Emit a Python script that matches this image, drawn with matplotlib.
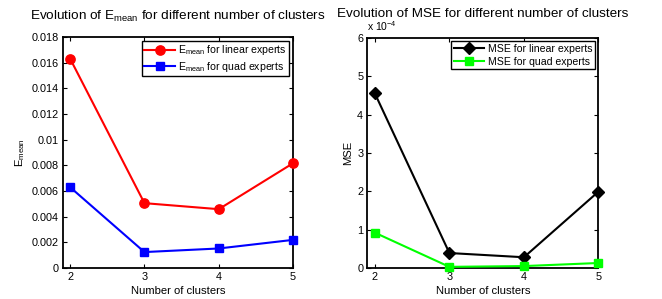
import matplotlib
matplotlib.use('Agg')
import matplotlib.pyplot as plt
import numpy as np

plt.rcParams['font.family'] = ['Liberation Sans', 'DejaVu Sans']
plt.rcParams['mathtext.default'] = 'regular'

# data
clusters = [2, 3, 4, 5]
emean_linear = [0.0163, 0.00505, 0.00458, 0.00816]
emean_quad = [0.00629, 0.00124, 0.00152, 0.00219]
mse_linear = [4.55e-4, 0.39e-4, 0.28e-4, 1.99e-4]
mse_quad = [0.92e-4, 0.03e-4, 0.05e-4, 0.13e-4]

fig = plt.figure(figsize=(6.62, 2.99), dpi=100)
ax1 = fig.add_axes([0.0947, 0.1037, 0.348, 0.773])
ax2 = fig.add_axes([0.555, 0.1037, 0.349, 0.770])


def matlab_style(ax):
    ax.tick_params(direction='in', top=True, right=True, length=3, width=0.8,
                   labelsize=7.8, pad=3)
    for s in ax.spines.values():
        s.set_linewidth(1.3)


legend_kw = dict(loc='upper right', fontsize=7.6, fancybox=False,
                 edgecolor='black', framealpha=1, borderpad=0.25,
                 handlelength=2.9, handletextpad=0.3, labelspacing=0.25,
                 borderaxespad=0.35)

# left: E_mean
ax1.plot(clusters, emean_linear, '-o', color='red', lw=1.5, ms=6.7,
         clip_on=False, zorder=3, label='E$_{mean}$ for linear experts')
ax1.plot(clusters, emean_quad, '-s', color='blue', lw=1.5, ms=5.8,
         clip_on=False, zorder=3, label='E$_{mean}$ for quad experts')
ax1.set_xlim(1.9, 5)
ax1.set_ylim(0, 0.018)
ax1.set_xticks(clusters)
ax1.set_yticks(np.arange(0, 0.0181, 0.002))
ax1.set_yticklabels(['0', '0.002', '0.004', '0.006', '0.008', '0.01',
                     '0.012', '0.014', '0.016', '0.018'])
ax1.set_xlabel('Number of clusters', fontsize=8.1, labelpad=3)
ax1.set_ylabel('E$_{mean}$', fontsize=8.1, labelpad=3)
ax1.set_title('Evolution of E$_{mean}$ for different number of clusters',
              fontsize=9.7, pad=12)
matlab_style(ax1)
leg1 = ax1.legend(**legend_kw)
leg1.get_frame().set_linewidth(1.0)

# right: MSE, shown in units of 1e-4
scale = 1e-4
ax2.plot(clusters, np.array(mse_linear) / scale, '-D', color='black', lw=1.5,
         ms=6.5, clip_on=False, zorder=3, label='MSE for linear experts')
ax2.plot(clusters, np.array(mse_quad) / scale, '-s', color='#00ff00', lw=1.5,
         ms=5.8, clip_on=False, zorder=3, label='MSE for quad experts')
ax2.set_xlim(1.9, 5)
ax2.set_ylim(0, 6)
ax2.set_xticks(clusters)
ax2.set_yticks(range(0, 7))
ax2.set_xlabel('Number of clusters', fontsize=8.1, labelpad=3)
ax2.set_ylabel('MSE', fontsize=8.1, labelpad=3)
ax2.set_title('Evolution of MSE for different number of clusters',
              fontsize=9.7, pad=15)
ax2.text(0.0, 1.02, 'x 10$^{-4}$', transform=ax2.transAxes, fontsize=7.5,
         ha='left', va='bottom')
matlab_style(ax2)
leg2 = ax2.legend(**legend_kw)
leg2.get_frame().set_linewidth(1.0)

fig.savefig('out.png', dpi=100)
